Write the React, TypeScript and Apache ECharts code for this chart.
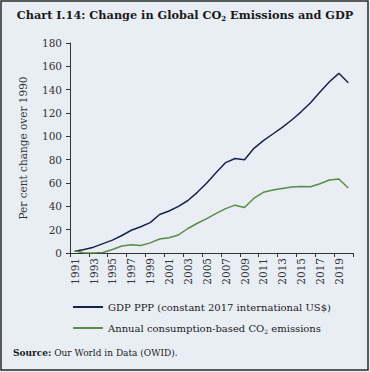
import React, { useEffect, useRef } from "react";
import * as echarts from "echarts";

const years = [
  "1991","1992","1993","1994","1995","1996","1997","1998","1999","2000",
  "2001","2002","2003","2004","2005","2006","2007","2008","2009","2010",
  "2011","2012","2013","2014","2015","2016","2017","2018","2019","2020",
];
const gdpPPP = [
  1.5, 3, 5, 8, 11, 15, 19.5, 22.5, 26, 33,
  36, 40, 45, 52, 60, 69, 77.5, 81, 80, 89.7,
  96.3, 102, 107.7, 114, 121, 128.8, 138, 146.8, 154, 146,
];
const co2Consumption = [
  2, 0, 0, 0.5, 3, 6, 7, 6.5, 8.7, 12,
  13, 15.5, 21, 25.5, 29.5, 34, 38, 41, 39, 47,
  52, 54, 55.3, 56.5, 57, 56.8, 59.4, 62.6, 63.5, 55.7,
];
const seriesNames = [
  "GDP PPP (constant 2017 international US$)",
  "Annual consumption-based CO{sub|2} emissions",
];

const SERIF = "'DejaVu Serif', 'Liberation Serif', serif";

export default function App() {
  const ref = useRef<HTMLDivElement>(null);
  useEffect(() => {
    document.body.style.margin = "0";
    const chart = echarts.init(ref.current!, null, { renderer: "svg" });
    chart.setOption({
      animation: false,
      backgroundColor: "#e9eef5",
      textStyle: { fontFamily: SERIF },
      graphic: [
        {
          type: "rect",
          shape: { x: 1, y: 1, width: 367, height: 369 },
          style: { fill: "none", stroke: "#2a2a2a", lineWidth: 1.5 },
          silent: true,
        },
        {
          type: "text",
          left: "center",
          top: 9,
          style: {
            text: "Chart I.14: Change in Global CO{sub|2} Emissions and GDP",
            font: `bold 11.3px ${SERIF}`,
            fill: "#1a1a1a",
            rich: {
              sub: { fontSize: 7, fontWeight: "bold", fontFamily: SERIF, verticalAlign: "bottom", padding: [8, 0, 0, 0] },
            },
          },
        },
        {
          type: "text",
          left: 13,
          top: 348,
          style: {
            text: "{b|Source:} Our World in Data (OWID).",
            font: `9px ${SERIF}`,
            fill: "#1a1a1a",
            rich: { b: { fontWeight: "bold", fontSize: 9, fontFamily: SERIF } },
          },
        },
      ],
      grid: { left: 70, right: 17, top: 43, bottom: 119, containLabel: false },
      legend: {
        orient: "vertical",
        left: 68,
        top: 297,
        itemWidth: 30,
        itemHeight: 2,
        itemGap: 11,
        icon: "rect",
        textStyle: {
          fontFamily: SERIF,
          fontSize: 10,
          color: "#1a1a1a",
          rich: { sub: { fontSize: 6, fontFamily: SERIF, padding: [6, 0, 0, 0] } },
        },
        data: seriesNames,
      },
      xAxis: {
        type: "category",
        data: years,
        boundaryGap: true,
        axisLine: { lineStyle: { color: "#333", width: 1 } },
        axisTick: { show: true, length: 4, lineStyle: { color: "#333" } },
        axisLabel: {
          rotate: 90,
          interval: 1,
          fontSize: 10.5,
          color: "#333",
          fontFamily: SERIF,
          margin: 5,
        },
      },
      yAxis: {
        type: "value",
        min: 0,
        max: 180,
        interval: 20,
        name: "Per cent change over 1990",
        nameLocation: "middle",
        nameGap: 42,
        nameTextStyle: { fontFamily: SERIF, fontSize: 10.5, color: "#333" },
        splitLine: { show: false },
        axisLine: { show: true, lineStyle: { color: "#333", width: 1 } },
        axisTick: { show: true, length: 4, lineStyle: { color: "#333" } },
        axisLabel: { fontSize: 10.5, color: "#333", fontFamily: SERIF, margin: 8 },
      },
      series: [
        {
          name: seriesNames[0],
          type: "line",
          data: gdpPPP,
          symbol: "none",
          lineStyle: { color: "#17244a", width: 1.5 },
          itemStyle: { color: "#17244a" },
        },
        {
          name: seriesNames[1],
          type: "line",
          data: co2Consumption,
          symbol: "none",
          lineStyle: { color: "#5b8c45", width: 1.5 },
          itemStyle: { color: "#5b8c45" },
        },
      ],
    });
    return () => chart.dispose();
  }, []);
  return (
    <div
      ref={ref}
      style={{ position: "fixed", left: 0, top: 0, width: 370, height: 372 }}
    />
  );
}
